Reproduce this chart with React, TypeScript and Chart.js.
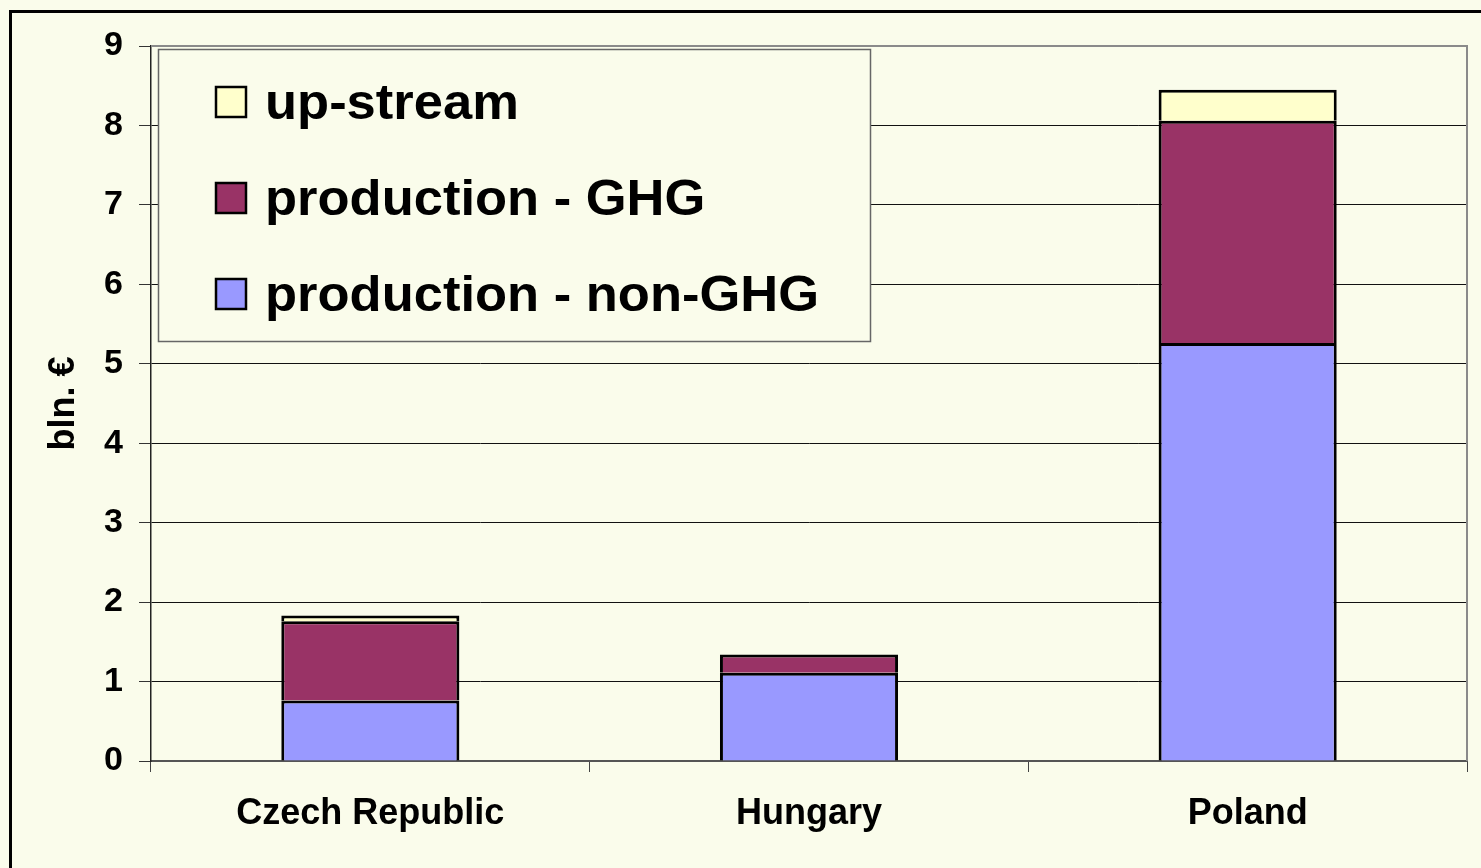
import React, { useEffect, useRef } from "react";
import { Chart, registerables } from "chart.js";

Chart.register(...registerables);

const categories = ["Czech Republic", "Hungary", "Poland"];
const nonGhgValues = [0.76, 1.11, 5.26];
const ghgValues = [1.0, 0.23, 2.8];
const upstreamValues = [0.07, 0, 0.39];
const yTicks = [0, 1, 2, 3, 4, 5, 6, 7, 8, 9];

const BG = "#FAFCEB";
const FONT = "'Liberation Sans', Arial, sans-serif";

const bgPlugin = {
  id: "bgPlugin",
  beforeDraw(chart: any) {
    const ctx = chart.ctx;
    ctx.save();
    ctx.fillStyle = BG;
    ctx.fillRect(0, 0, chart.width, chart.height);
    ctx.restore();
  },
  afterDraw(chart: any) {
    const ctx = chart.ctx;
    const a = chart.chartArea;
    ctx.save();
    // plot border top/right (gray)
    ctx.strokeStyle = "#8a8a8a";
    ctx.lineWidth = 2;
    ctx.beginPath();
    ctx.moveTo(a.left, a.top);
    ctx.lineTo(a.right, a.top);
    ctx.lineTo(a.right, a.bottom);
    ctx.stroke();
    // outer black frame
    ctx.strokeStyle = "#000";
    ctx.lineWidth = 3;
    ctx.strokeRect(10.5, 11.5, chart.width + 20, chart.height + 20);
    // legend box
    const lx = 158.5, ly = 49.5, lw = 712, lh = 292;
    ctx.fillStyle = BG;
    ctx.fillRect(lx, ly, lw, lh);
    ctx.strokeStyle = "#666";
    ctx.lineWidth = 1.5;
    ctx.strokeRect(lx, ly, lw, lh);
    const ds = chart.data.datasets.slice().reverse();
    ds.forEach((d: any, i: number) => {
      const sy = 87 + i * 96;
      ctx.fillStyle = d.backgroundColor;
      ctx.fillRect(216, sy, 30, 30);
      ctx.strokeStyle = "#000";
      ctx.lineWidth = 2.5;
      ctx.strokeRect(216, sy, 30, 30);
      ctx.save();
      ctx.translate(265, sy + 32);
      ctx.scale(1.05, 1);
      ctx.fillStyle = "#000";
      ctx.font = `bold 50px ${FONT}`;
      ctx.textBaseline = "alphabetic";
      ctx.textAlign = "left";
      ctx.fillText(d.label, 0, 0);
      ctx.restore();
    });
    ctx.restore();
  },
};

export default function App() {
  const ref = useRef<HTMLCanvasElement | null>(null);
  useEffect(() => {
    if (!ref.current) return;
    const common = {
      borderColor: "#000",
      borderWidth: 3,
      barPercentage: 0.406,
      categoryPercentage: 1,
    };
    const chart = new Chart(ref.current, {
      type: "bar",
      data: {
        labels: categories,
        datasets: [
          { label: "production - non-GHG", data: nonGhgValues, backgroundColor: "#9999FF", ...common },
          { label: "production - GHG", data: ghgValues, backgroundColor: "#993366", ...common },
          { label: "up-stream", data: upstreamValues, backgroundColor: "#FFFFCC", ...common },
        ],
      },
      options: {
        responsive: false,
        animation: false,
        devicePixelRatio: 1,
        layout: { padding: { left: 0, top: 46, right: 14, bottom: 0 } },
        plugins: {
          legend: { display: false },
          tooltip: { enabled: false },
        },
        scales: {
          x: {
            stacked: true,
            afterFit: (s: any) => {
              s.height = 107;
            },
            grid: {
              offset: true,
              drawOnChartArea: false,
              drawTicks: true,
              tickLength: 11,
              color: "#444",
              lineWidth: 1,
            },
            border: { display: true, color: "#555", width: 2 },
            ticks: {
              color: "#000",
              font: { family: FONT, size: 36, weight: "bold" },
              padding: 20,
              maxRotation: 0,
            },
          },
          y: {
            stacked: true,
            min: 0,
            max: 9,
            afterFit: (s: any) => {
              s.width = 151;
            },
            afterBuildTicks: (s: any) => {
              s.ticks = yTicks.map((v) => ({ value: v }));
            },
            grid: {
              color: "#111",
              lineWidth: 1,
              drawTicks: true,
              tickLength: 12,
              tickColor: "#333",
            },
            border: { display: true, color: "#222", width: 1.5 },
            ticks: {
              color: "#000",
              font: { family: FONT, size: 34, weight: "bold" },
              padding: 16,
            },
            title: {
              display: true,
              text: "bln. €",
              color: "#000",
              font: { family: FONT, size: 36, weight: "bold" },
              padding: { top: 42, bottom: 0 },
            },
          },
        },
      },
      plugins: [bgPlugin],
    });
    return () => chart.destroy();
  }, []);
  return (
    <div style={{ position: "absolute", left: 0, top: 0, width: 1481, height: 868, overflow: "hidden" }}>
      <canvas ref={ref} width={1481} height={868} style={{ display: "block" }} />
    </div>
  );
}
